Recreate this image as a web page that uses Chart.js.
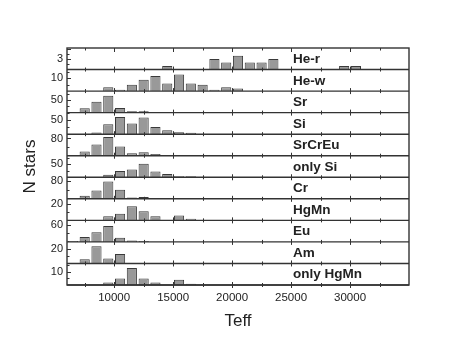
<!DOCTYPE html>
<html>
<head>
<meta charset="utf-8">
<script src="https://cdn.jsdelivr.net/npm/chart.js@4.4.0/dist/chart.umd.min.js"></script>
<style>
html,body{margin:0;padding:0;background:#fff;}
#wrap{width:459px;height:360px;}
</style>
</head>
<body>
<div id="wrap"><canvas id="c" width="459" height="360"></canvas></div>
<script>
// bin centres (K), 1000 K wide
var bins=[6500,7500,8500,9500,10500,11500,12500,13500,14500,15500,16500,17500,18500,19500,20500,21500,22500,23500,24500,25500,26500,27500,28500,29500,30500];
var names=["He-r","He-w","Sr","Si","SrCrEu","only Si","Cr","HgMn","Eu","Am","only HgMn"];
var yTick=[3,10,50,50,80,50,80,20,60,20,10];
var yMax=[6.2,17,87,78,100,83,98,26,76,30,16.5];
var xTicks=[10000,15000,20000,25000,30000];

var heR=     [0,0,0,0,0,0,0,0,1,0,0,0,3,2,4,2,2,3,0,0,0,0,0,1,1];
var heW=     [0,0,0,3,1,5,9,12,6,13,6,5,1,3,2,0,0,0,0,0,0,0,0,0,0];
var sr=      [3,18,44,68,19,6,6,3,0,0,0,0,0,0,0,0,0,0,0,0,0,0,0,0,0];
var si=      [0,0,6,36,62,39,60,26,14,7,5,0,0,0,0,0,0,0,0,0,0,0,0,0,0];
var srCrEu=  [3,20,52,87,43,11,16,8,0,0,0,0,0,0,0,0,0,0,0,0,0,0,0,0,0];
var onlySi=  [0,0,0,10,24,30,52,22,13,4,4,0,0,0,0,0,0,0,0,0,0,0,0,0,0];
var cr=      [0,14,38,79,41,6,8,3,0,0,0,0,0,0,0,0,0,0,0,0,0,0,0,0,0];
var hgMn=    [0,0,0,5,8,17,11,5,0,6,2,0,0,0,0,0,0,0,0,0,0,0,0,0,0];
var eu=      [3,17,34,56,15,5,3,0,0,0,0,0,0,0,0,0,0,0,0,0,0,0,0,0,0];
var am=      [0,6,24,7,13,0,0,0,0,0,0,0,0,0,0,0,0,0,0,0,0,0,0,0,0];
var onlyHgMn=[0,0,0,2,5,13,5,2,0,4,1,0,0,0,0,0,0,0,0,0,0,0,0,0,0];

var counts=[heR,heW,sr,si,srCrEu,onlySi,cr,hgMn,eu,am,onlyHgMn];
var font="'Liberation Sans', Arial, sans-serif";
var ink="#333333";

var datasets=[];
var scales={
  x:{
    type:"linear", position:"bottom", min:6000, max:35000, offset:false,
    grid:{display:false, drawTicks:false},
    border:{display:false},
    afterBuildTicks:function(s){ s.ticks=xTicks.map(function(v){return {value:v};}); },
    afterFit:function(s){ s.height=47; },
    ticks:{padding:6, color:"#222", font:{family:font, size:11.5}, callback:function(v){ return String(v); }},
    title:{display:true, text:"Teff", color:"#222", padding:{top:0,bottom:0}, font:{family:font, size:17}}
  }
};
counts.forEach(function(c, i){
  var id="y"+i;
  datasets.push({
    label:names[i], yAxisID:id, xAxisID:"x", grouped:false,
    data:bins.map(function(b, k){ return {x:b, y:c[k]>0 ? c[k] : null}; }),
    backgroundColor:"#999999", borderColor:"#3a3a3a", borderWidth:1,
    barPercentage:0.86, categoryPercentage:1
  });
  scales[id]={
    type:"linear", position:"left", stack:"panels", stackWeight:1, weight:counts.length-i,
    min:0, max:yMax[i],
    grid:{display:false, drawTicks:false},
    border:{display:false},
    afterBuildTicks:function(s){ s.ticks=[{value:yTick[i]}]; },
    afterFit:function(s){ s.width=47; },
    ticks:{padding:4, color:"#222", font:{family:font, size:11}, callback:function(v){ return String(v); }},
    title:{display:i==5, text:"N stars", color:"#222", padding:{top:0,bottom:0}, font:{family:font, size:17}}
  };
});

// frame, panel baselines, inward tick marks and panel names
var panelFrame={
  id:"panelFrame",
  afterDatasetsDraw:function(chart){
    var ctx=chart.ctx, a=chart.chartArea, xs=chart.scales.x;
    ctx.save();
    ctx.strokeStyle=ink;
    ctx.lineWidth=1.4;
    ctx.strokeRect(a.left, a.top, a.right-a.left, a.bottom-a.top);
    var xt=[];
    for(var v=7500; v<35000; v+=2500){
      xt.push(v);
    }
    ctx.lineWidth=1;
    ctx.beginPath();
    xt.forEach(function(v){
      var px=Math.round(xs.getPixelForValue(v))+0.5;
      var len=(v%5000==0) ? 4 : 2.5;
      ctx.moveTo(px, a.top);
      ctx.lineTo(px, a.top+len);
    });
    ctx.stroke();
    names.forEach(function(n, i){
      var ys=chart.scales["y"+i];
      var y0=ys.getPixelForValue(0);
      ctx.lineWidth=1.4;
      ctx.beginPath();
      ctx.moveTo(a.left, y0);
      ctx.lineTo(a.right, y0);
      ctx.stroke();
      ctx.lineWidth=1;
      ctx.beginPath();
      xt.forEach(function(v){
        var px=Math.round(xs.getPixelForValue(v))+0.5;
        var len=(v%5000==0) ? 3 : 2;
        ctx.moveTo(px, y0-len);
        ctx.lineTo(px, y0+len);
      });
      var step=yTick[i]/2;
      for(var t=step; t<yMax[i]; t+=step){
        var py=Math.round(ys.getPixelForValue(t))+0.5;
        var l=(Math.abs(t%yTick[i])<1e-9) ? 4 : 2.5;
        ctx.moveTo(a.left, py);
        ctx.lineTo(a.left+l, py);
      }
      ctx.stroke();
      ctx.fillStyle="#222";
      ctx.font="bold 13.5px "+font;
      ctx.textBaseline="middle";
      ctx.textAlign="left";
      ctx.fillText(n, xs.getPixelForValue(25000)+2, (ys.top+ys.bottom)/2+0.5);
    });
    ctx.restore();
  }
};

new Chart(document.getElementById("c"), {
  type:"bar",
  data:{datasets:datasets},
  options:{
    responsive:false, animation:false,
    layout:{padding:{left:20, right:50, top:48, bottom:28}},
    plugins:{legend:{display:false}, tooltip:{enabled:false}},
    scales:scales
  },
  plugins:[panelFrame]
});
</script>
</body>
</html>
